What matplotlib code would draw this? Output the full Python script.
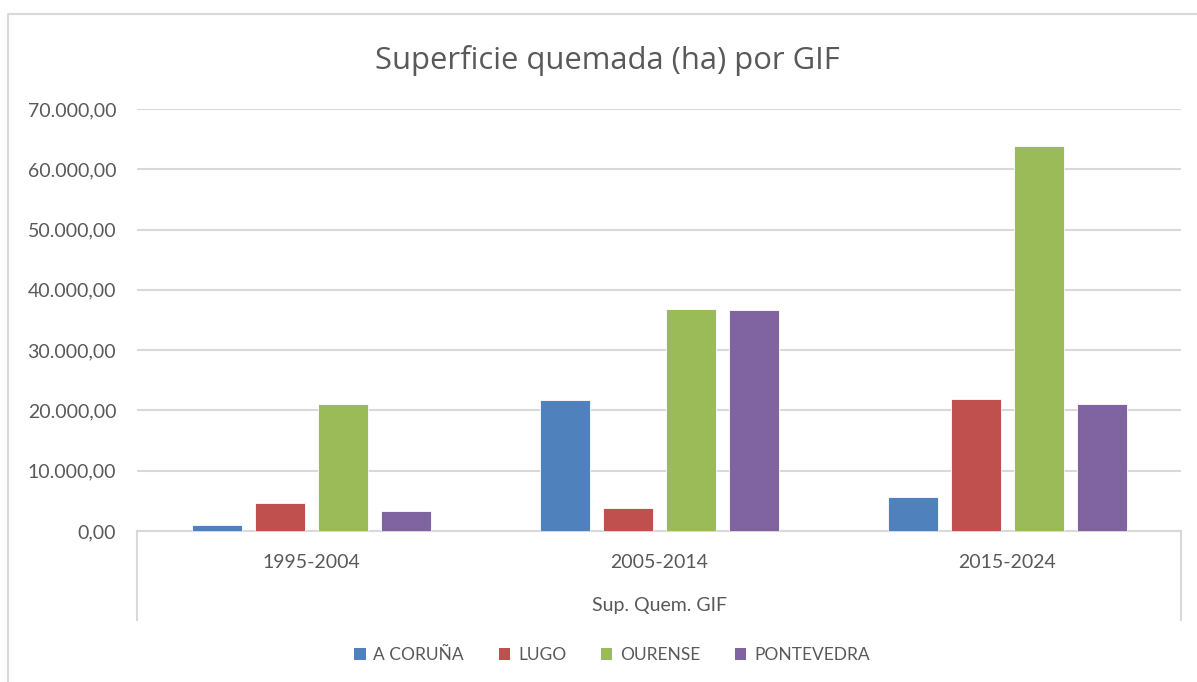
import numpy as np
import matplotlib.pyplot as plt
from matplotlib.patches import Patch
from matplotlib.lines import Line2D
from matplotlib.ticker import FuncFormatter
import matplotlib.transforms as mtransforms

# Datos
periodos = ["1995-2004", "2005-2014", "2015-2024"]
provincias = ["A CORUÑA", "LUGO", "OURENSE", "PONTEVEDRA"]
a_coruna = [1000, 21700, 5600]
lugo = [4700, 3800, 21900]
ourense = [21100, 36900, 63800]
pontevedra = [3400, 36700, 21000]
colores = ["#4F81BD", "#C0504D", "#9BBB59", "#8064A2"]

W, H = 1197, 682
fig = plt.figure(figsize=(W / 100, H / 100), dpi=100)
plt.rcParams['font.family'] = ['Lato', 'DejaVu Sans']
gris = "#595959"
linea = "#D9D9D9"

ax = fig.add_axes([137 / W, 1 - 531 / H, (1181 - 137) / W, (531 - 109) / H])

x = np.arange(len(periodos))
ancho = 50 / 348
paso = 63 / 348
series = [a_coruna, lugo, ourense, pontevedra]
for i, (vals, col) in enumerate(zip(series, colores)):
    ax.bar(x + (i - 1.5) * paso, vals, width=ancho, color=col,
           edgecolor="white", linewidth=0.6, zorder=3)

ax.set_xlim(-0.5, 2.5)
ax.set_ylim(0, 70000)
ax.set_yticks(np.arange(0, 70001, 10000))
fmt = lambda v, p: f"{v:,.2f}".replace(",", "X").replace(".", ",").replace("X", ".")
ax.yaxis.set_major_formatter(FuncFormatter(fmt))
ax.tick_params(axis="y", length=0, pad=15, labelsize=14, labelcolor=gris)
ax.set_xticks([])
ax.grid(axis="y", color=linea, linewidth=1.5, zorder=0)
for s in ["top", "right", "left"]:
    ax.spines[s].set_visible(False)
ax.spines["bottom"].set_color(linea)
ax.spines["bottom"].set_linewidth(1.5)

# eje de categorias en dos niveles
tr = mtransforms.blended_transform_factory(ax.transData, ax.transAxes)
fondo = (531 - 620) / 422
for xv in [-0.5, 2.5]:
    ax.plot([xv, xv], [0, fondo], color=linea, lw=1.5, transform=tr, clip_on=False)
for xi, lab in zip(x, periodos):
    ax.text(xi, (531 - 562) / 422, lab, transform=tr, ha="center", va="center",
            fontsize=14, color=gris)
ax.text(1, (531 - 605) / 422, "Sup. Quem. GIF", transform=tr, ha="center",
        va="center", fontsize=14, color=gris)

fig.text(607 / W, 1 - 60 / H, "Superficie quemada (ha) por GIF", ha="center",
         va="center", fontsize=22.3, color=gris, family=["Open Sans", "DejaVu Sans"])

handles = [Patch(facecolor=c, edgecolor="none") for c in colores]
fig.legend(handles, provincias, loc="center", bbox_to_anchor=(612 / W, 1 - 655 / H),
           ncol=4, frameon=False, fontsize=12.5, labelcolor=gris,
           handlelength=0.65, handleheight=0.65, handletextpad=0.45, columnspacing=2.0)

# borde del grafico
fig.add_artist(Line2D([8 / W, 8 / W, 1], [0, 1 - 14 / H, 1 - 14 / H],
                      color=linea, lw=1.5, transform=fig.transFigure))

fig.savefig("out.png", dpi=100)
